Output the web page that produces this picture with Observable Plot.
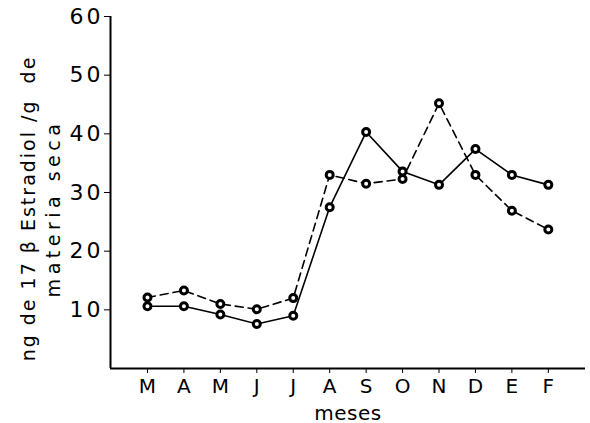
<!DOCTYPE html>
<html>
<head>
<meta charset="utf-8">
<script src="https://cdn.jsdelivr.net/npm/d3@7"></script>
<script src="https://cdn.jsdelivr.net/npm/@observablehq/plot@0.6"></script>
<style>
  html, body { margin: 0; padding: 0; background: #fff; }
</style>
</head>
<body>
<div id="chart"></div>
<script>
const months = ["M", "A", "M", "J", "J", "A", "S", "O", "N", "D", "E", "F"];
const solidValues = [10.6, 10.6, 9.2, 7.6, 9.0, 27.5, 40.3, 33.6, 31.3, 37.4, 33.0, 31.3];
const dashedValues = [12.1, 13.3, 11.0, 10.1, 12.0, 33.0, 31.5, 32.3, 45.2, 33.0, 26.9, 23.7];
const yTicks = [10, 20, 30, 40, 50, 60];
const yLabel1 = "ng de 17 β Estradiol /g  de";
const yLabel2 = "materia seca";
const xLabel = "meses";

const solid = months.map((m, i) => ({i, v: solidValues[i]}));
const dashed = months.map((m, i) => ({i, v: dashedValues[i]}));

const xMin = -1.015, xMax = 12.02;

const chart = Plot.plot({
  width: 590,
  height: 423,
  marginLeft: 110,
  marginRight: 5,
  marginTop: 16,
  marginBottom: 55,
  style: {fontFamily: "DejaVu Sans, sans-serif", fontSize: "20px", color: "#000", background: "#fff"},
  x: {type: "linear", domain: [xMin, xMax]},
  y: {domain: [0, 60]},
  marks: [
    Plot.ruleX([xMin], {stroke: "#000", strokeWidth: 2}),
    Plot.ruleY([0], {stroke: "#000", strokeWidth: 2}),
    Plot.axisY({ticks: yTicks, tickSize: 6, tickPadding: 1, fontSize: 22, label: null, tickFormat: d => String(d)}),
    Plot.axisX({ticks: d3.range(months.length), tickSize: 5, tickPadding: 5, fontSize: 20,
      tickFormat: i => months[i], label: xLabel, labelAnchor: "center", labelArrow: "none", labelOffset: 51}),
    Plot.text([yLabel1], {frameAnchor: "left", textAnchor: "middle", rotate: -90, dx: -82, dy: 16, fontSize: 19, fill: "#000", text: d => d}),
    Plot.text([yLabel2], {frameAnchor: "left", textAnchor: "middle", rotate: -90, dx: -57, dy: 16, fontSize: 19, fill: "#000", text: d => d}),
    Plot.line(solid, {x: "i", y: "v", stroke: "#000", strokeWidth: 1.6}),
    Plot.line(dashed, {x: "i", y: "v", stroke: "#000", strokeWidth: 1.6, strokeDasharray: "8,5"}),
    Plot.dot(solid, {x: "i", y: "v", r: 3.5, stroke: "#000", strokeWidth: 3, fill: "#fff"}),
    Plot.dot(dashed, {x: "i", y: "v", r: 3.5, stroke: "#000", strokeWidth: 3, fill: "#fff"})
  ]
});
const svg = d3.select(chart);
svg.selectAll("text").each(function() {
  const t = this.textContent;
  const s = d3.select(this);
  if (t === yLabel1) s.style("letter-spacing", "2px");
  else if (t === yLabel2) s.style("letter-spacing", "4.5px");
  else if (yTicks.map(String).includes(t)) s.style("letter-spacing", "3px");
  else if (t === xLabel) s.style("letter-spacing", "0.5px");
});
document.getElementById("chart").appendChild(chart);
</script>
</body>
</html>
